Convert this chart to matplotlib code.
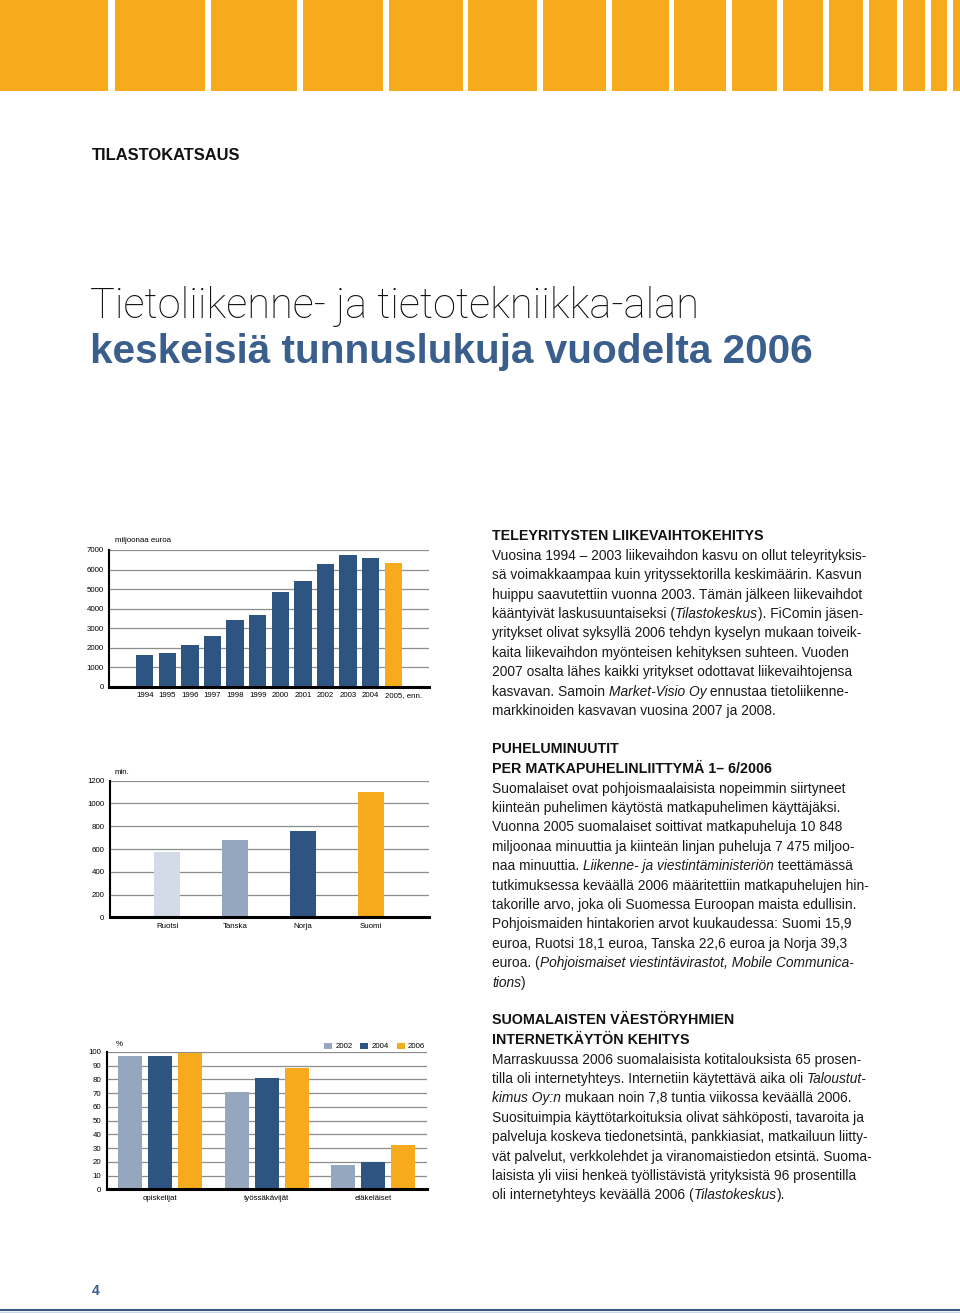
import numpy as np
import matplotlib
matplotlib.use("Agg")
import matplotlib.pyplot as plt
from matplotlib.patches import Rectangle

# --- data ---
years = ["1994", "1995", "1996", "1997", "1998", "1999", "2000",
         "2001", "2002", "2003", "2004", "2005, enn."]
revenue = [1600, 1740, 2120, 2600, 3430, 3650, 4830, 5430, 6300, 6740, 6610, 6320]

countries = ["Ruotsi", "Tanska", "Norja", "Suomi"]
minutes = [575, 675, 758, 1098]

groups = ["opiskelijat", "työssäkävijät", "eläkeläiset"]
survey_years = ["2002", "2004", "2006"]
share_2002 = [97, 71, 18]
share_2004 = [97, 81, 20]
share_2006 = [99, 88, 32]

NAVY = "#2e5581"
ORANGE = "#f7aa1c"
LIGHT = "#d2dbe7"
MID = "#95a6bf"
TITLEBLUE = "#3a5f8c"
GRID = "#8c8c8c"

W, H = 960, 1313
fig = plt.figure(figsize=(W / 100, H / 100), dpi=100)
fig.patch.set_facecolor("white")

COND = ["Liberation Sans Narrow", "Liberation Sans", "DejaVu Sans"]
SANS = ["Liberation Sans", "DejaVu Sans"]
TICKSIZE = 5.7


def fx(x):
    return x / W


def fy(y):
    return 1 - y / H


def txt(x, y, s, **kw):
    return fig.text(fx(x), fy(y), s, **kw)


# orange blocks along the top
edges = [(0, 108), (114.5, 205), (211, 297), (303, 383), (389, 463), (468, 537),
         (543, 606), (612, 669), (674, 726), (732, 777), (783, 823), (829, 863),
         (869, 897), (903, 925), (931, 947), (953, 960)]
for a, b in edges:
    fig.patches.append(Rectangle((fx(a), fy(91)), fx(b - a), 91 / H,
                                 transform=fig.transFigure, color=ORANGE, lw=0))

# header
txt(92, 156, "TILASTOKATSAUS", family=SANS, fontweight="bold", fontsize=11.9,
    color="#111111", va="center")
txt(90, 307, "Tietoliikenne- ja tietotekniikka-alan", family=["Roboto", "DejaVu Sans"],
    fontweight="light", fontsize=30, color="#111111", va="center")
txt(90, 352, "keskeisiä tunnuslukuja vuodelta 2006", family=SANS,
    fontweight="bold", fontsize=29.2, color=TITLEBLUE, va="center")


def axes_px(left, top, right, bottom):
    return fig.add_axes([fx(left), fy(bottom), fx(right - left), (bottom - top) / H])


def style(ax, ticks):
    ax.set_yticks(ticks)
    ax.yaxis.grid(True, color=GRID, lw=0.9)
    ax.set_axisbelow(True)
    for s in ["top", "right"]:
        ax.spines[s].set_visible(False)
    ax.spines["left"].set_linewidth(1.5)
    ax.spines["bottom"].set_linewidth(2.2)
    ax.tick_params(axis="both", length=0, labelsize=TICKSIZE, pad=4)
    for lab in ax.get_yticklabels() + ax.get_xticklabels():
        lab.set_family(COND)


# chart 1: revenue
ax1 = axes_px(109.3, 550, 429, 686.7)
x1 = np.arange(len(years))
cols1 = [NAVY] * (len(years) - 1) + [ORANGE]
ax1.bar(x1, revenue, width=0.77, color=cols1)
ax1.set_xlim(-1.57, 12.58)
ax1.set_ylim(0, 7000)
ax1.set_xticks(x1)
ax1.set_xticklabels(years[:-1] + [""])
style(ax1, np.arange(0, 7001, 1000))
# last label starts at the bar's left edge, as on the page
ax1.annotate(years[-1], xy=(x1[-1] - 0.38, 0), xycoords=("data", "axes fraction"),
             xytext=(0, -4), textcoords="offset points", ha="left", va="top",
             family=COND, fontsize=TICKSIZE)
txt(115, 541, "miljoonaa euroa", family=COND, fontsize=TICKSIZE, va="center")

# chart 2: minutes per subscription
ax2 = axes_px(110, 780.7, 429, 917.3)
x2 = np.arange(len(countries))
ax2.bar(x2, minutes, width=0.39, color=[LIGHT, MID, NAVY, ORANGE])
ax2.set_xlim(-0.84, 3.85)
ax2.set_ylim(0, 1200)
ax2.set_xticks(x2)
ax2.set_xticklabels(countries)
style(ax2, np.arange(0, 1201, 200))
txt(115, 772, "min.", family=COND, fontsize=TICKSIZE, va="center")

# chart 3: internet use
ax3 = axes_px(106.7, 1052, 426.7, 1189.3)
x3 = np.arange(len(groups))
off = 0.281
bw = 0.225
for k, (vals, c) in enumerate(zip([share_2002, share_2004, share_2006],
                                  [MID, NAVY, ORANGE])):
    ax3.bar(x3 + (k - 1) * off, vals, width=bw, color=c, label=survey_years[k])
ax3.set_xlim(-0.5, 2.5)
ax3.set_ylim(0, 100)
ax3.set_xticks(x3)
ax3.set_xticklabels(groups)
style(ax3, np.arange(0, 101, 10))
txt(116, 1044, "%", family=COND, fontsize=TICKSIZE, va="center")
leg = ax3.legend(loc="lower right", bbox_to_anchor=(1.0, 1.0), ncol=3, frameon=False,
                 prop={"family": COND, "size": TICKSIZE}, handlelength=1.0,
                 handleheight=0.8, handletextpad=0.4, columnspacing=1.0,
                 borderpad=0.1, borderaxespad=0.1)

# text column
HEAD = dict(family=SANS, fontweight="bold", fontsize=10.3, color="#111111", va="center")
BODY = dict(family=SANS, fontsize=9.9, color="#1a1a1a", va="center")
LS = 19.4
renderer = fig.canvas.get_renderer()


def block(y0, heads, lines):
    y = y0
    for h in heads:
        txt(492, y, h, **HEAD)
        y += 19.8
    for ln in lines:
        parts = ln if isinstance(ln, list) else [ln]
        x = 492
        for p in parts:
            s, it = (p, False) if isinstance(p, str) else p
            t = txt(x, y, s, style="italic" if it else "normal", **BODY)
            x += t.get_window_extent(renderer=renderer).width
        y += LS


block(536, ["TELEYRITYSTEN LIIKEVAIHTOKEHITYS"], [
    "Vuosina 1994 – 2003 liikevaihdon kasvu on ollut teleyrityksis-",
    "sä voimakkaampaa kuin yrityssektorilla keskimäärin. Kasvun",
    "huippu saavutettiin vuonna 2003. Tämän jälkeen liikevaihdot",
    ["kääntyivät laskusuuntaiseksi (", ("Tilastokeskus", True), "). FiComin jäsen-"],
    "yritykset olivat syksyllä 2006 tehdyn kyselyn mukaan toiveik-",
    "kaita liikevaihdon myönteisen kehityksen suhteen. Vuoden",
    "2007 osalta lähes kaikki yritykset odottavat liikevaihtojensa",
    ["kasvavan. Samoin ", ("Market-Visio Oy", True), " ennustaa tietoliikenne-"],
    "markkinoiden kasvavan vuosina 2007 ja 2008.",
])

block(749, ["PUHELUMINUUTIT", "PER MATKAPUHELINLIITTYMÄ 1– 6/2006"], [
    "Suomalaiset ovat pohjoismaalaisista nopeimmin siirtyneet",
    "kiinteän puhelimen käytöstä matkapuhelimen käyttäjäksi.",
    "Vuonna 2005 suomalaiset soittivat matkapuheluja 10 848",
    "miljoonaa minuuttia ja kiinteän linjan puheluja 7 475 miljoo-",
    ["naa minuuttia. ", ("Liikenne- ja viestintäministeriön", True), " teettämässä"],
    "tutkimuksessa keväällä 2006 määritettiin matkapuhelujen hin-",
    "takorille arvo, joka oli Suomessa Euroopan maista edullisin.",
    "Pohjoismaiden hintakorien arvot kuukaudessa: Suomi 15,9",
    "euroa, Ruotsi 18,1 euroa, Tanska 22,6 euroa ja Norja 39,3",
    ["euroa. (", ("Pohjoismaiset viestintävirastot, Mobile Communica-", True)],
    [("tions", True), ")"],
])

block(1020, ["SUOMALAISTEN VÄESTÖRYHMIEN", "INTERNETKÄYTÖN KEHITYS"], [
    "Marraskuussa 2006 suomalaisista kotitalouksista 65 prosen-",
    ["tilla oli internetyhteys. Internetiin käytettävä aika oli ", ("Taloustut-", True)],
    [("kimus Oy:n", True), " mukaan noin 7,8 tuntia viikossa keväällä 2006."],
    "Suosituimpia käyttötarkoituksia olivat sähköposti, tavaroita ja",
    "palveluja koskeva tiedonetsintä, pankkiasiat, matkailuun liitty-",
    "vät palvelut, verkkolehdet ja viranomaistiedon etsintä. Suoma-",
    "laisista yli viisi henkeä työllistävistä yrityksistä 96 prosentilla",
    ["oli internetyhteys keväällä 2006 (", ("Tilastokeskus", True), ")."],
])

# page number and bottom rule
txt(92, 1291, "4", family=COND, fontweight="bold", fontsize=10, color=TITLEBLUE,
    va="center")
fig.add_artist(plt.Line2D([0, 1], [fy(1310), fy(1310)], transform=fig.transFigure,
                          color="#3b5a7d", lw=1.5))
fig.add_artist(plt.Line2D([0, 1], [fy(1312), fy(1312)], transform=fig.transFigure,
                          color="#c9d6e3", lw=1.0))

fig.savefig("out.png", dpi=100)
